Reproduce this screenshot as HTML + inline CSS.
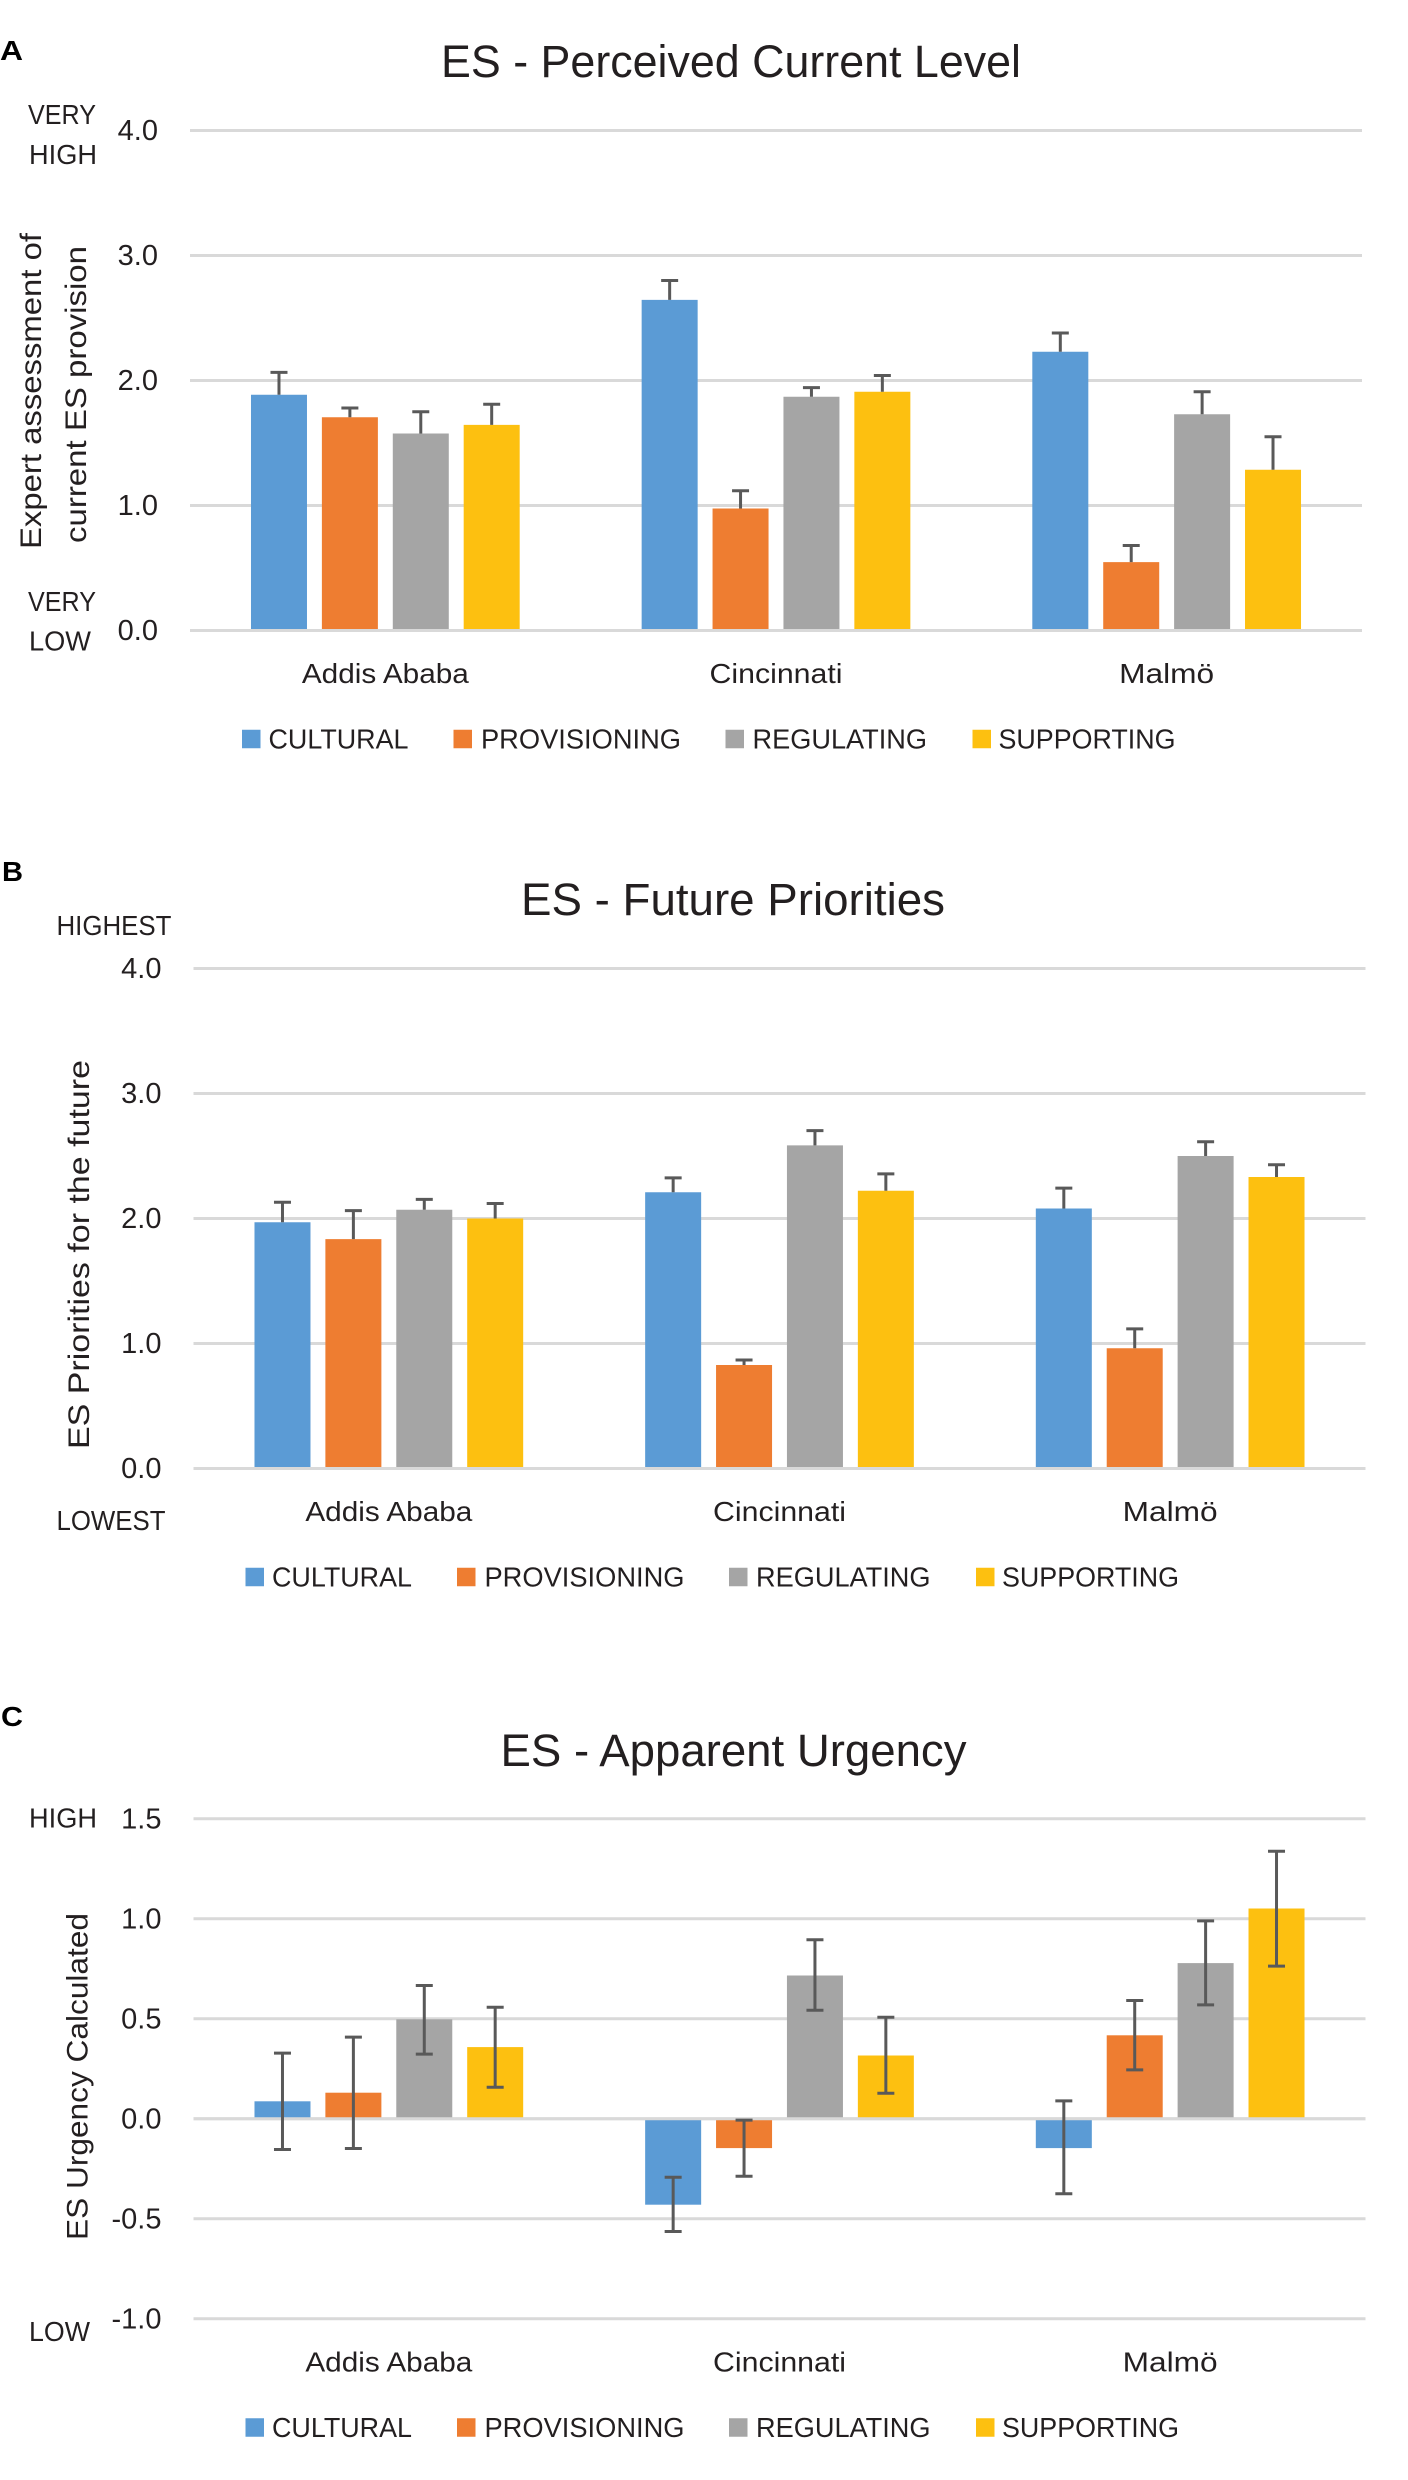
<!DOCTYPE html>
<html lang="en">
<head>
<meta charset="utf-8">
<title>Ecosystem services charts</title>
<style>
html,body{margin:0;padding:0;background:#fff;width:1408px;height:2480px;overflow:hidden}
svg{display:block}
text{font-family:"Liberation Sans",sans-serif;fill:#231f20}
</style>
</head>
<body>
<svg id="figure" xmlns="http://www.w3.org/2000/svg" width="1408" height="2480" viewBox="0 0 1408 2480">
  <rect x="0" y="0" width="1408" height="2480" fill="#ffffff"/>

  <text x="0" y="60" font-size="28" font-weight="700" style="fill:#000" textLength="23" lengthAdjust="spacingAndGlyphs">A</text>
  <text x="2" y="881" font-size="28" font-weight="700" style="fill:#000" textLength="21" lengthAdjust="spacingAndGlyphs">B</text>
  <text x="1" y="1726" font-size="28" font-weight="700" style="fill:#000" textLength="22" lengthAdjust="spacingAndGlyphs">C</text>

  <text x="441" y="77" font-size="45" textLength="580" lengthAdjust="spacingAndGlyphs">ES - Perceived Current Level</text>
  <text x="521" y="915" font-size="45" textLength="424" lengthAdjust="spacingAndGlyphs">ES - Future Priorities</text>
  <text x="500.5" y="1766" font-size="45" textLength="466" lengthAdjust="spacingAndGlyphs">ES - Apparent Urgency</text>

  <text x="28" y="124" font-size="28" textLength="68" lengthAdjust="spacingAndGlyphs">VERY</text>
  <text x="29" y="164" font-size="28" textLength="68" lengthAdjust="spacingAndGlyphs">HIGH</text>
  <text x="28" y="611" font-size="28" textLength="68" lengthAdjust="spacingAndGlyphs">VERY</text>
  <text x="29" y="650.5" font-size="28" textLength="62" lengthAdjust="spacingAndGlyphs">LOW</text>
  <text x="56.5" y="935" font-size="28" textLength="115" lengthAdjust="spacingAndGlyphs">HIGHEST</text>
  <text x="56.5" y="1530" font-size="28" textLength="109" lengthAdjust="spacingAndGlyphs">LOWEST</text>
  <text x="29" y="1827.7" font-size="28" textLength="68" lengthAdjust="spacingAndGlyphs">HIGH</text>
  <text x="29" y="2341" font-size="28" textLength="61" lengthAdjust="spacingAndGlyphs">LOW</text>

  <text transform="translate(41,549) rotate(-90)" font-size="30" textLength="316" lengthAdjust="spacingAndGlyphs">Expert assessment of</text>
  <text transform="translate(86,543) rotate(-90)" font-size="30" textLength="297" lengthAdjust="spacingAndGlyphs">current ES provision</text>
  <text transform="translate(89,1449) rotate(-90)" font-size="30" textLength="389" lengthAdjust="spacingAndGlyphs">ES Priorities for the future</text>
  <text transform="translate(87.5,2240) rotate(-90)" font-size="30" textLength="327" lengthAdjust="spacingAndGlyphs">ES Urgency Calculated</text>

  <g id="charts"></g>
</svg>

<script>
// ---------- shared categories and series ----------
const categories = ["Addis Ababa", "Cincinnati", "Malmö"];
const seriesNames = ["CULTURAL", "PROVISIONING", "REGULATING", "SUPPORTING"];
const seriesColors = ["#5B9BD5", "#EE7D31", "#A5A5A5", "#FDC010"];

// ---------- panel A: perceived current level (one row per series, one value per city) ----------
const currentTicks = ["0.0", "1.0", "2.0", "3.0", "4.0"];
const currentValues = [
  [1.886, 2.645, 2.23],
  [1.706, 0.976, 0.547],
  [1.576, 1.87, 1.73],
  [1.645, 1.91, 1.286]
];
const currentErrHigh = [
  [2.065, 2.80, 2.38],
  [1.78, 1.118, 0.68],
  [1.75, 1.943, 1.91],
  [1.81, 2.04, 1.55]
];

// ---------- panel B: future priorities ----------
const futureTicks = ["0.0", "1.0", "2.0", "3.0", "4.0"];
const futureValues = [
  [1.97, 2.21, 2.08],
  [1.835, 0.828, 0.962],
  [2.07, 2.585, 2.50],
  [2.00, 2.222, 2.332]
];
const futureErrHigh = [
  [2.13, 2.325, 2.243],
  [2.063, 0.868, 1.117],
  [2.153, 2.703, 2.614],
  [2.12, 2.357, 2.43]
];

// ---------- panel C: apparent urgency ----------
const urgencyTicks = ["-1.0", "-0.5", "0.0", "0.5", "1.0", "1.5"];
const urgencyValues = [
  [0.087, -0.43, -0.147],
  [0.13, -0.147, 0.417],
  [0.497, 0.716, 0.778],
  [0.358, 0.316, 1.051]
];
const urgencyErrHigh = [
  [0.328, -0.293, 0.089],
  [0.408, -0.007, 0.591],
  [0.666, 0.895, 0.989],
  [0.557, 0.507, 1.337]
];
const urgencyErrLow = [
  [-0.154, -0.564, -0.375],
  [-0.149, -0.288, 0.244],
  [0.323, 0.542, 0.569],
  [0.157, 0.127, 0.763]
];

// ---------- layout ----------
const SVG_NS = "http://www.w3.org/2000/svg";
const root = document.getElementById("charts");

function node(tag, attrs, parent) {
  const el = document.createElementNS(SVG_NS, tag);
  for (const k in attrs) el.setAttribute(k, attrs[k]);
  parent.appendChild(el);
  return el;
}

function drawPanel(cfg) {
  const group = node("g", {}, root);
  
  

  const innerW = cfg.right - cfg.left;
  const catW = innerW / categories.length;
  const barW = 56;
  const barStep = 70.9;
  const yMin = parseFloat(cfg.ticks[0]);
  const yMax = parseFloat(cfg.ticks[cfg.ticks.length - 1]);
  const yScale = v => cfg.bottom - (v - yMin) / (yMax - yMin) * (cfg.bottom - cfg.top);
  const catCenter = i => cfg.left + catW * (i + 0.5);
  const barCenter = (i, s) => catCenter(i) + (s - 1.5) * barStep;

  // gridlines and tick labels
  cfg.ticks.forEach(t => {
    const y = yScale(parseFloat(t));
    const line = node("line", {x1: cfg.left, x2: cfg.right, y1: y, y2: y, stroke: "#D9D9D9", "stroke-width": 3}, group);
    
    
    const label = node("text", {x: cfg.tickRight, y: y + 9.7, "text-anchor": "end", "font-size": 29}, group);
    
    
    label.textContent = t;
  });

  // bars
  cfg.values.forEach((row, s) => {
    row.forEach((v, i) => {
      const y0 = yScale(0);
      const yv = yScale(v);
      const bar = node("rect", {
        x: barCenter(i, s) - barW / 2,
        y: Math.min(y0, yv),
        width: barW,
        height: Math.abs(y0 - yv),
        fill: seriesColors[s]
      }, group);
      
      
    });
  });

  // zero line above the bars
  const zeroY = yScale(0);
  const zero = node("line", {x1: cfg.left, x2: cfg.right, y1: zeroY, y2: zeroY, stroke: "#D9D9D9", "stroke-width": 3}, group);
  
  

  // error bars
  cfg.errHigh.forEach((row, s) => {
    row.forEach((hi, i) => {
      const cx = barCenter(i, s);
      const yHi = yScale(hi);
      const lo = cfg.errLow ? cfg.errLow[s][i] : cfg.values[s][i];
      const yLo = yScale(lo);
      const stem = node("line", {x1: cx, x2: cx, y1: yHi, y2: yLo, stroke: "#595959", "stroke-width": 3}, group);
      
      
      const capTop = node("line", {x1: cx - 8.5, x2: cx + 8.5, y1: yHi, y2: yHi, stroke: "#595959", "stroke-width": 3}, group);
      
      
      if (cfg.errLow) {
        const capLow = node("line", {x1: cx - 8.5, x2: cx + 8.5, y1: yLo, y2: yLo, stroke: "#595959", "stroke-width": 3}, group);
        
        
      }
    });
  });

  // category labels
  const catWidths = [167, 133, 95];
  categories.forEach((c, i) => {
    const label = node("text", {
      x: catCenter(i),
      y: cfg.catBaseline,
      "text-anchor": "middle",
      "font-size": 28,
      textLength: catWidths[i],
      lengthAdjust: "spacingAndGlyphs"
    }, group);
    
    
    label.textContent = c;
  });

  // legend
  const swatchLefts = [242, 453.5, 725.5, 972.5];
  const textLefts = [268.5, 481, 752.5, 998.5];
  const textWidths = [140, 200, 174.5, 177];
  seriesNames.forEach((name, s) => {
    const entry = node("g", {}, group);
    
    
    const swatch = node("rect", {
      x: swatchLefts[s] + cfg.legendShift,
      y: cfg.legendY - 9.25,
      width: 18.5,
      height: 18.5,
      fill: seriesColors[s]
    }, entry);
    
    
    const label = node("text", {
      x: textLefts[s] + cfg.legendShift,
      y: cfg.legendY + 9.3,
      "font-size": 28,
      textLength: textWidths[s],
      lengthAdjust: "spacingAndGlyphs"
    }, entry);
    
    
    label.textContent = name;
  });
}

drawPanel({
  id: "a", left: 190, right: 1362, top: 130.5, bottom: 630.5, tickRight: 158,
  catBaseline: 683, legendY: 739, legendShift: 0,
  ticks: currentTicks, values: currentValues, errHigh: currentErrHigh, errLow: null
});
drawPanel({
  id: "b", left: 193.5, right: 1365.5, top: 968.5, bottom: 1468.5, tickRight: 161.5,
  catBaseline: 1521, legendY: 1577, legendShift: 3.5,
  ticks: futureTicks, values: futureValues, errHigh: futureErrHigh, errLow: null
});
drawPanel({
  id: "c", left: 193.5, right: 1365.5, top: 1818.7, bottom: 2318.7, tickRight: 161.5,
  catBaseline: 2371.7, legendY: 2427.5, legendShift: 3.5,
  ticks: urgencyTicks, values: urgencyValues, errHigh: urgencyErrHigh, errLow: urgencyErrLow
});
</script>
</body>
</html>
